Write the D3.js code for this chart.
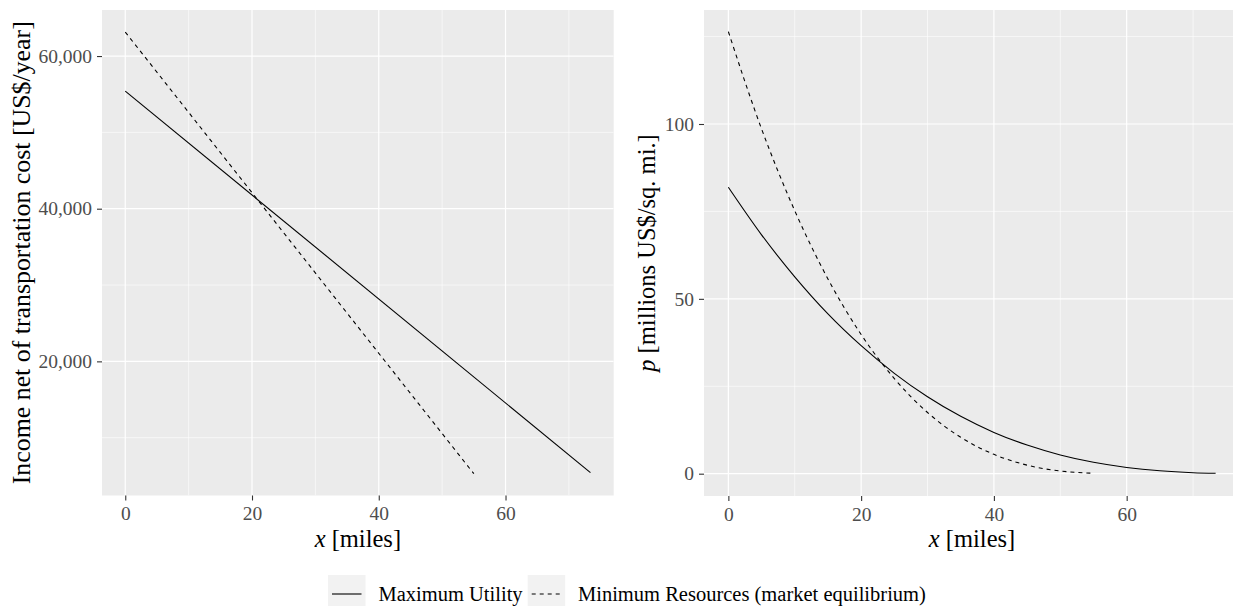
<!DOCTYPE html>
<html><head><meta charset="utf-8">
<script src="https://cdn.jsdelivr.net/npm/d3@7"></script>
<style>body{margin:0;background:#fff}svg{display:block}text{font-family:"Liberation Serif","Times New Roman",serif}</style>
</head><body><svg id="c" width="1233" height="606"></svg>
<script>
// ---- data ----
const seriesNames = ["Maximum Utility", "Minimum Resources (market equilibrium)"];
const incomeX_util = [0, 73.4];
const income_util = [55410, 5425];
const incomeX_market = [0, 55];
const income_market = [63142, 5282];
const rentX_util = [0,5,10,15,20,25,30,35,40,45,50,55,60,65,70,73.4];
const rent_util = [81.9,68.3,56.3,45.7,36.6,28.7,22.0,16.4,11.8,8.18,5.36,3.26,1.79,0.83,0.29,0.11];
const rentX_market = [0,5,10,15,20,25,30,35,40,45,50,55];
const rent_market = [126.4,98.6,75.2,55.7,39.8,27.2,17.5,10.4,5.53,2.44,0.77,0.11];
const xTicks = [0,20,40,60];
const xMinor = [10,30,50,70];
const incomeTicks = [20000,40000,60000];
const incomeMinor = [10000,30000,50000];
const rentTicks = [0,50,100];
const rentMinor = [25,75,125];

const svg = d3.select("#c");
const tickCol = "#4D4D4D";
const dash = "4,4";
const tickFont = "19.5px", titleFont = "24.5px", legendFont = "20.5px";

function panel(cfg){
  const g = svg.append("g");
  const x = d3.scaleLinear().domain(cfg.xdom).range([cfg.left, cfg.right]);
  const y = d3.scaleLinear().domain(cfg.ydom).range([cfg.bottom, cfg.top]);
  const clipId = "clip"+cfg.id;
  svg.append("clipPath").attr("id", clipId).append("rect")
    .attr("x", cfg.left).attr("y", cfg.top).attr("width", cfg.right-cfg.left).attr("height", cfg.bottom-cfg.top);
  g.append("rect").attr("x", cfg.left).attr("y", cfg.top).attr("width", cfg.right-cfg.left).attr("height", cfg.bottom-cfg.top).attr("fill", "#EBEBEB");
  const gg = g.append("g").attr("clip-path", `url(#${clipId})`);
  gg.selectAll(".ymin").data(cfg.yMinor).join("line").attr("x1", cfg.left).attr("x2", cfg.right)
    .attr("y1", d=>y(d)).attr("y2", d=>y(d)).attr("stroke", "#fff").attr("stroke-width", 0.6);
  gg.selectAll(".xmin").data(xMinor).join("line").attr("y1", cfg.top).attr("y2", cfg.bottom)
    .attr("x1", d=>x(d)).attr("x2", d=>x(d)).attr("stroke", "#fff").attr("stroke-width", 0.6);
  gg.selectAll(".ymaj").data(cfg.yTicks).join("line").attr("x1", cfg.left).attr("x2", cfg.right)
    .attr("y1", d=>y(d)).attr("y2", d=>y(d)).attr("stroke", "#fff").attr("stroke-width", 1.2);
  gg.selectAll(".xmaj").data(xTicks).join("line").attr("y1", cfg.top).attr("y2", cfg.bottom)
    .attr("x1", d=>x(d)).attr("x2", d=>x(d)).attr("stroke", "#fff").attr("stroke-width", 1.2);
  const line = d3.line().x(d=>x(d[0])).y(d=>y(d[1])).curve(d3.curveMonotoneX);
  cfg.series.forEach((s,i)=>{
    gg.append("path").datum(d3.zip(s.x, s.y)).attr("d", line).attr("fill","none")
      .attr("stroke","#000").attr("stroke-width",1.1).attr("stroke-dasharray", i===1?dash:null);
  });
  // axes
  const xa = g.append("g").attr("transform", `translate(0,${cfg.bottom})`)
    .call(d3.axisBottom(x).tickValues(xTicks).tickSize(5).tickPadding(6).tickFormat(d3.format("d")));
  xa.select(".domain").remove();
  xa.selectAll("line").attr("stroke","#333").attr("stroke-width",1.1);
  xa.selectAll("text").attr("fill",tickCol).style("font-size",tickFont);
  const ya = g.append("g").attr("transform", `translate(${cfg.left},0)`)
    .call(d3.axisLeft(y).tickValues(cfg.yTicks).tickSize(5).tickPadding(5).tickFormat(cfg.yfmt));
  ya.select(".domain").remove();
  ya.selectAll("line").attr("stroke","#333").attr("stroke-width",1.1);
  ya.selectAll("text").attr("fill",tickCol).style("font-size",tickFont);
  // x title
  const xt = g.append("text").attr("x", (cfg.left+cfg.right)/2).attr("y", 547).attr("text-anchor","middle").style("font-size",titleFont);
  xt.append("tspan").attr("font-style","italic").text("x");
  xt.append("tspan").text(" [miles]");
  // y title
  const yt = g.append("text").attr("transform", `translate(${cfg.ytitleX},${(cfg.top+cfg.bottom)/2}) rotate(-90)`)
    .attr("text-anchor","middle").style("font-size",titleFont);
  if (cfg.ytitleLen) yt.attr("textLength", cfg.ytitleLen).attr("lengthAdjust","spacingAndGlyphs");
  cfg.ytitle.forEach(t=>yt.append("tspan").attr("font-style", t.it?"italic":null).text(t.s));
}

const xMax = 73.4;
panel({id:1, left:102, right:613.7, top:10, bottom:495.5,
  xdom:[-0.05*xMax, xMax*1.05],
  ydom:[2426, 66033], yTicks:incomeTicks, yMinor:incomeMinor, yfmt:d3.format(","),
  ytitleX:30, ytitleLen:463, ytitle:[{s:"Income net of transportation cost [US$/year]"}],
  series:[{x:incomeX_util,y:income_util},{x:incomeX_market,y:income_market}]});
panel({id:2, left:704, right:1240, top:10, bottom:496,
  xdom:[-0.05*xMax, xMax*1.05],
  ydom:[-6.38, 132.6], yTicks:rentTicks, yMinor:rentMinor, yfmt:d3.format("d"),
  ytitleX:655, ytitle:[{s:"p",it:true},{s:" [millions US$/sq. mi.]"}],
  series:[{x:rentX_util,y:rent_util},{x:rentX_market,y:rent_market}]});

// legend
const lg = svg.append("g");
const keys = [{x:328, tx:378.5, i:0},{x:527.7, tx:578, i:1}];
keys.forEach(k=>{
  lg.append("rect").attr("x",k.x).attr("y",575).attr("width",37.5).attr("height",37.5).attr("fill","#F2F2F2");
  lg.append("line").attr("x1",k.x+4).attr("x2",k.x+33.5).attr("y1",594).attr("y2",594)
    .attr("stroke","#000").attr("stroke-width",1.1).attr("stroke-dasharray",k.i===1?dash:null);
  lg.append("text").attr("x",k.tx).attr("y",601).style("font-size",legendFont).text(seriesNames[k.i]);
});
</script></body></html>
